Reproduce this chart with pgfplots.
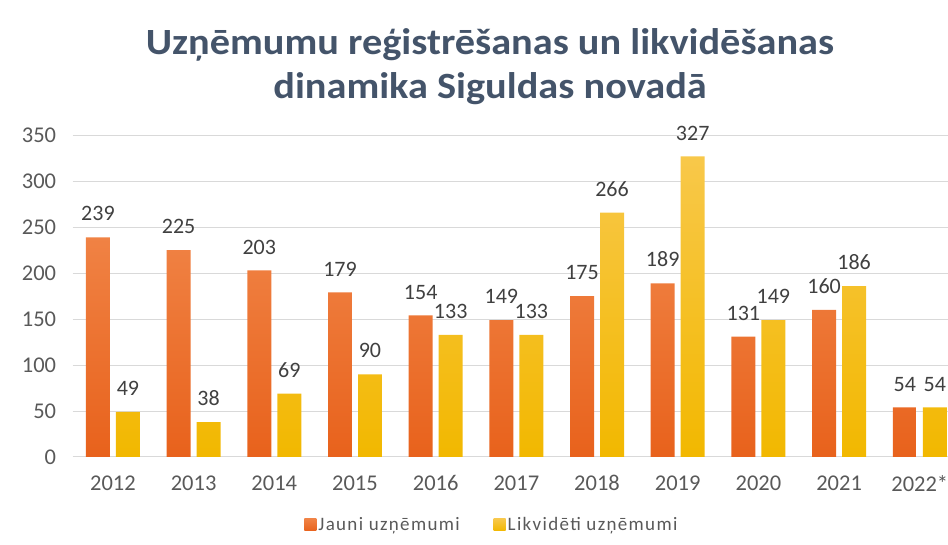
\documentclass[border=0pt]{standalone}
\usepackage{pgfplots}
\pgfplotsset{compat=1.18}
\usepackage{fontspec}
\setmainfont{Carlito}
\definecolor{titlec}{HTML}{44546A}
\definecolor{txt}{HTML}{595959}
\definecolor{lbl}{HTML}{404040}
\definecolor{gridc}{HTML}{D9D9D9}
\definecolor{oTop}{HTML}{F08244}
\definecolor{oBot}{HTML}{E8621C}
\definecolor{yTop}{HTML}{F8C84A}
\definecolor{yBot}{HTML}{F2B800}
\begin{document}
\begin{tikzpicture}
\path[use as bounding box] (0,0) rectangle (948pt,545pt);
\node[font=\fontsize{37}{44}\selectfont\bfseries, text=titlec, align=center, transform shape, xscale=1.09] at (490pt,478pt) {Uzņēmumu reģistrēšanas un likvidēšanas\\dinamika Siguldas novadā};
\begin{axis}[
  at={(72.6pt,88pt)}, anchor=south west, scale only axis,
  width=875.4pt, height=321.7pt,
  xmin=-0.5, xmax=10.35, ymin=0, ymax=350,
  clip=false,
  axis line style={draw=none},
  ymajorgrids, grid style={draw=gridc, line width=1pt},
  major tick length=0pt,
  ytick={0,50,...,350},
  xtick={0,...,10},
  xticklabels={2012,2013,2014,2015,2016,2017,2018,2019,2020,2021,2022*},
  tick label style={font=\fontsize{22.5}{26}\selectfont, text=txt},
  /pgf/number format/assume math mode=true,
  xticklabel style={yshift=-15pt},
  yticklabel style={xshift=-13pt},
  nodes near coords,
  every node near coord/.append style={font=\fontsize{22}{26}\selectfont, text=lbl, anchor=south, inner sep=0pt, yshift=16pt, /pgf/number format/assume math mode=true},
  legend columns=2,
  legend style={at={(axis description cs:0.479,-0.211)}, anchor=center, draw=none, fill=none,
    font=\fontsize{19}{22}\selectfont\addfontfeature{LetterSpace=7}, text=txt,
    /tikz/every even column/.append style={column sep=32pt}},
  legend image code/.code={\path[#1, draw=none] (0pt,-6pt) rectangle (12pt,6pt);},
]
\addplot[ybar, bar width=0.297, bar shift=-0.186, draw=none, top color=oTop, bottom color=oBot,
  every node near coord/.append style={xshift=-15pt}]
  coordinates {(0,239) (1,225) (2,203) (3,179) (4,154) (5,149) (6,175) (7,189) (8,131) (9,160) (10,54)};
\addplot[ybar, bar width=0.297, bar shift=0.186, draw=none, top color=yTop, bottom color=yBot,
  every node near coord/.append style={xshift=15pt}]
  coordinates {(0,49) (1,38) (2,69) (3,90) (4,133) (5,133) (6,266) (7,327) (8,149) (9,186) (10,54)};
\legend{Jauni uzņēmumi, Likvidēti uzņēmumi}
\end{axis}
\end{tikzpicture}
\end{document}
